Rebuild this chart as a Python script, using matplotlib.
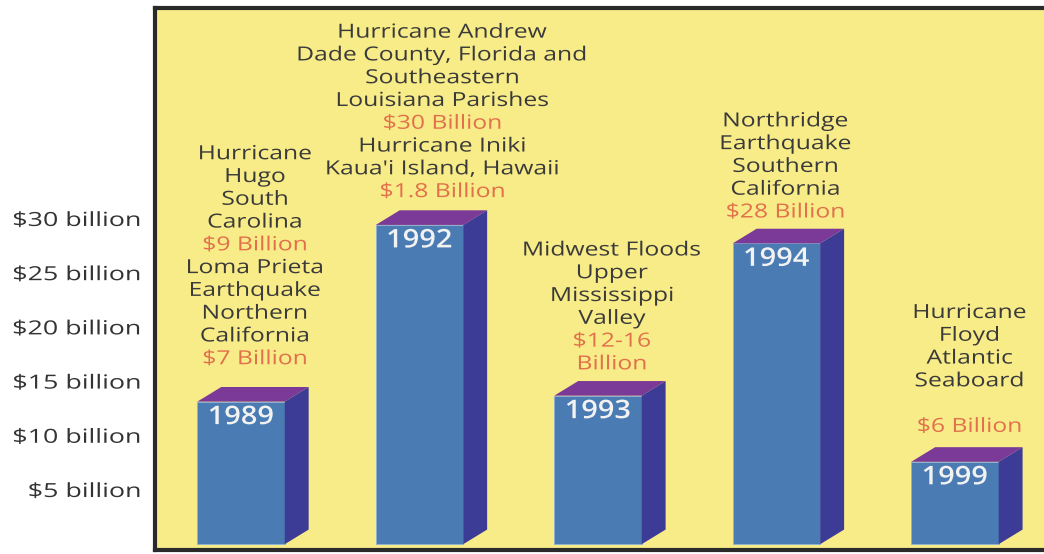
import matplotlib
matplotlib.use("Agg")
import matplotlib.pyplot as plt
from matplotlib.patches import Polygon
from matplotlib.patheffects import AbstractPathEffect
from matplotlib.transforms import Affine2D

plt.rcParams['font.family'] = ['Open Sans', 'DejaVu Sans']

# ---- data ----
years = ["1989", "1992", "1993", "1994", "1999"]
bar_heights = [13.15, 29.45, 13.7, 27.75, 7.6]   # as drawn (billions)
ytick_values = [5, 10, 15, 20, 25, 30]
ytick_labels = ["$5 billion", "$10 billion", "$15 billion", "$20 billion",
                "$25 billion", "$30 billion"]

DARK = "#3a3a3a"
MONEY = "#e2704c"
annotations = [
    [("Hurricane", DARK), ("Hugo", DARK), ("South", DARK), ("Carolina", DARK),
     ("$9 Billion", MONEY), ("Loma Prieta", DARK), ("Earthquake", DARK),
     ("Northern", DARK), ("California", DARK), ("$7 Billion", MONEY)],
    [("Hurricane Andrew", DARK), ("Dade County, Florida and", DARK),
     ("Southeastern", DARK), ("Louisiana Parishes", DARK),
     ("$30 Billion", MONEY), ("Hurricane Iniki", DARK),
     ("Kaua'i Island, Hawaii", DARK), ("$1.8 Billion", MONEY)],
    [("Midwest Floods", DARK), ("Upper", DARK), ("Mississippi", DARK),
     ("Valley", DARK), ("$12-16", MONEY), ("Billion", MONEY)],
    [("Northridge", DARK), ("Earthquake", DARK), ("Southern", DARK),
     ("California", DARK), ("$28 Billion", MONEY)],
    [("Hurricane", DARK), ("Floyd", DARK), ("Atlantic", DARK),
     ("Seaboard", DARK), ("", DARK), ("$6 Billion", MONEY)],
]

# ---- styling ----
YELLOW = "#f8ec88"
FRONT = "#4a7cb3"
TOP = "#7b3a97"
SIDE = "#3c3b95"
BAR_W = 0.49
DX = 0.134
DY = 1.35
label_gap_pt = [20.0, 13.1, 12.0, 11.7, 14.6]   # gap between bar top and text
label_dx_pt = [1.5, 8.0, 1.5, -2.0, 2.0]         # horizontal nudge of text


class HStretch(AbstractPathEffect):
    """Widen glyphs horizontally (the reference uses a very wide face)."""

    def __init__(self, sx, anchor="center"):
        super().__init__()
        self.sx = sx
        self.anchor = anchor

    def draw_path(self, renderer, gc, tpath, affine, rgbFace=None):
        ext = tpath.get_extents()
        if self.anchor == "right":
            cx = ext.x1
        elif self.anchor == "left":
            cx = ext.x0
        else:
            cx = 0.5 * (ext.x0 + ext.x1)
        t = Affine2D().translate(-cx, 0).scale(self.sx, 1).translate(cx, 0)
        renderer.draw_path(gc, tpath, t + affine, rgbFace)


W, H = 1044, 554
fig = plt.figure(figsize=(W / 100, H / 100), dpi=100)
fig.patch.set_facecolor("white")
ax = fig.add_axes([155 / W, (H - 550) / H, (1044 - 155) / W, (550 - 8) / H])
ax.set_facecolor(YELLOW)
ax.set_xlim(-0.482, 4.499)
ax.set_ylim(-0.535, 49.46)

xs = list(range(len(years)))
ax.bar(xs, bar_heights, width=BAR_W, bottom=0, color=FRONT, zorder=3,
       edgecolor="#8fb0d8", linewidth=0.6)
for x, h in zip(xs, bar_heights):
    l, r = x - BAR_W / 2, x + BAR_W / 2
    top = Polygon([(l, h), (r, h), (r + DX, h + DY), (l + DX, h + DY)],
                  closed=True, facecolor=TOP, edgecolor="none", zorder=3)
    side = Polygon([(r, 0), (r + DX, DY), (r + DX, h + DY), (r, h)],
                   closed=True, facecolor=SIDE, edgecolor="none", zorder=3)
    ax.add_patch(top)
    ax.add_patch(side)

for x, h, yr, lines, gap, ddx in zip(xs, bar_heights, years, annotations,
                                     label_gap_pt, label_dx_pt):
    ax.annotate(yr, xy=(x, h), xytext=(0, -11.5), textcoords="offset points",
                ha="center", va="center", color="#f2f2f2", fontsize=18.5,
                fontweight="semibold", zorder=5,
                path_effects=[HStretch(1.13)])
    n = len(lines)
    for k, (txt, col) in enumerate(lines):
        off = gap + (n - 1 - k) * 16.4
        ax.annotate(txt, xy=(x + DX / 2, h + DY), xytext=(ddx, off),
                    textcoords="offset points", ha="center", va="center",
                    color=col, fontsize=14, zorder=5,
                    path_effects=[HStretch(1.27)])

ax.set_xticks([])
ax.set_yticks(ytick_values)
ax.set_yticklabels(ytick_labels, fontsize=14, color="#333333")
for t in ax.get_yticklabels():
    t.set_path_effects([HStretch(1.38, anchor="right")])
ax.tick_params(axis="y", length=0, pad=10)

for s in ["left", "top", "bottom"]:
    ax.spines[s].set_color("#2a2a2a")
    ax.spines[s].set_linewidth(3)
ax.spines["right"].set_visible(False)

fig.savefig("out.png", dpi=100, facecolor=fig.get_facecolor())
